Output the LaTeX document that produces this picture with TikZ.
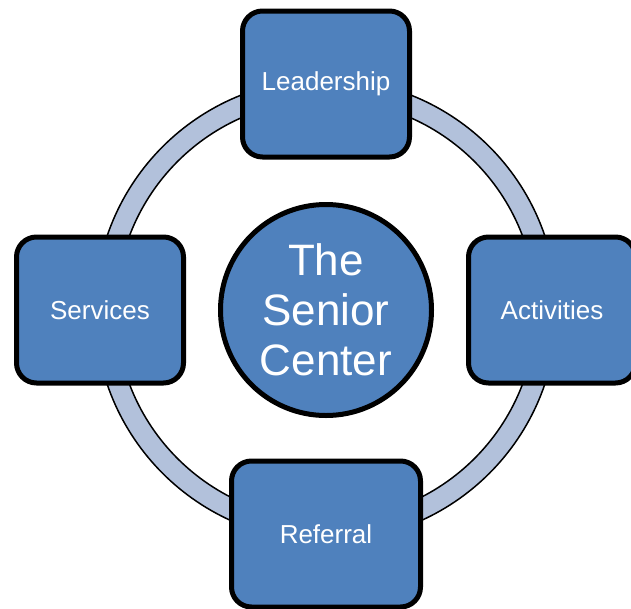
\documentclass[tikz,border=0pt]{standalone}
\usepackage{fontspec}
\setmainfont{Liberation Sans}
\definecolor{boxblue}{HTML}{4F81BD}
\definecolor{ringblue}{HTML}{B2C1DB}
\tikzset{
  topic/.style={draw=black, line width=5pt, fill=boxblue, rounded corners=20pt,
    minimum width=167pt, minimum height=146pt, text=white, inner sep=0pt,
    font=\fontsize{26}{30}\selectfont},
  hub/.style={draw=black, line width=5pt, fill=boxblue, circle, minimum size=211pt,
    text=white, inner sep=0pt, align=center, font=\fontsize{44}{50}\selectfont},
  ringband/.style={fill=ringblue, draw=black, line width=1.5pt, even odd rule}
}
\begin{document}
\begin{tikzpicture}[x=1pt,y=-1pt]
\useasboundingbox (0,0) rectangle (631,608);
\coordinate (c) at (326,310);
\path[ringband] (c) circle[radius=231] (c) circle[radius=210];
\node[topic] (lead) at (326,84) {Leadership};
\node[topic] (serv) at (100,310) {Services};
\node[topic] (act) at (552,310) {Activities};
\node[topic, minimum width=189pt] (ref) at (326,534) {Referral};
\node[hub] (hub) at (c) {The\\Senior\\Center};
\end{tikzpicture}
\end{document}
